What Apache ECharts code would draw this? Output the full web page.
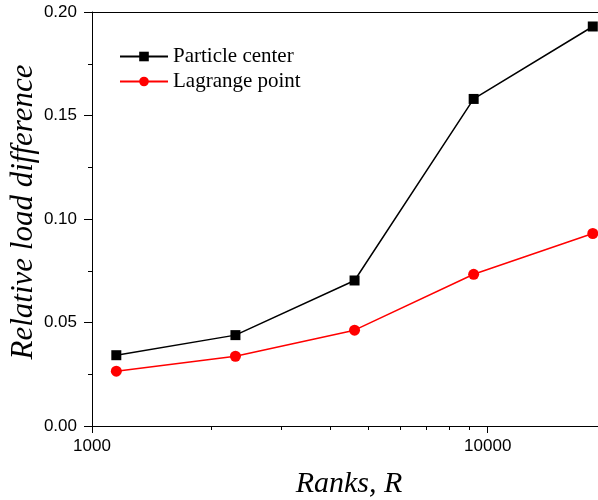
<!DOCTYPE html>
<html>
<head>
<meta charset="utf-8">
<script src="https://cdn.jsdelivr.net/npm/echarts@6/dist/echarts.min.js"></script>
<style>html,body{margin:0;padding:0;background:#fff}#c{width:598px;height:500px}</style>
</head>
<body>
<div id="c"></div>
<script>
const ranks = [1152, 2304, 4608, 9216, 18432];
const particleCenter = [0.0342, 0.0439, 0.0703, 0.158, 0.193];
const lagrangePoint = [0.0265, 0.0337, 0.0463, 0.0733, 0.093];
const xMajorTicks = [1000, 10000];
const xMinorTicks = [2000, 3000, 4000, 5000, 6000, 7000, 8000, 9000];
const seriesNames = ['Particle center', 'Lagrange point'];

const chart = echarts.init(document.getElementById('c'), null, {renderer: 'canvas'});
const sans = 'Liberation Sans, Arial, sans-serif';
const serif = 'Liberation Serif, Times New Roman, serif';
const pairs = (ys) => ranks.map((r, i) => [r, ys[i]]);

chart.setOption({
  animation: false,
  backgroundColor: '#fff',
  grid: {left: 92, top: 12, right: 0, bottom: 74, containLabel: false, outerBoundsMode: 'none'},
  legend: {
    orient: 'vertical', left: 114, top: 41, itemWidth: 48, itemHeight: 12, itemGap: 4,
    textStyle: {fontFamily: serif, fontSize: 21, color: '#000'},
    data: seriesNames
  },
  xAxis: [{
    type: 'log', logBase: 10, min: 1000, max: 19000,
    name: 'Ranks, R', nameLocation: 'middle', nameGap: 43, nameMoveOverlap: false,
    nameTextStyle: {fontFamily: serif, fontStyle: 'italic', fontSize: 30, color: '#000', padding: [0, 0, 0, 8]},
    axisLine: {lineStyle: {color: '#000', width: 1}},
    axisTick: {show: true, inside: false, length: 7, lineStyle: {color: '#000'}, customValues: xMajorTicks},
    axisLabel: {fontFamily: sans, fontSize: 17, color: '#000', margin: 12, customValues: xMajorTicks,
      formatter: (v) => String(Math.round(v))},
    splitLine: {show: false}
  }, {
    type: 'log', logBase: 10, min: 1000, max: 19000, position: 'bottom',
    axisLine: {show: false},
    axisTick: {show: true, inside: false, length: 4, lineStyle: {color: '#000'}, customValues: xMinorTicks},
    axisLabel: {show: false},
    splitLine: {show: false}
  }, {
    type: 'log', logBase: 10, min: 1000, max: 19000, position: 'top',
    axisLine: {show: true, lineStyle: {color: '#000', width: 1}},
    axisTick: {show: false},
    axisLabel: {show: false},
    splitLine: {show: false}
  }],
  yAxis: {
    type: 'value', min: 0, max: 0.2, interval: 0.05,
    name: 'Relative load difference', nameLocation: 'middle', nameGap: 53, nameMoveOverlap: false,
    nameTextStyle: {fontFamily: serif, fontStyle: 'italic', fontSize: 31, color: '#000', padding: [0, 0, 0, 14]},
    axisLine: {show: true, lineStyle: {color: '#000', width: 1}},
    axisTick: {show: true, inside: false, length: 8, lineStyle: {color: '#000'}},
    minorTick: {show: true, splitNumber: 2, length: 4, lineStyle: {color: '#000'}},
    axisLabel: {fontFamily: sans, fontSize: 17, color: '#000', margin: 15, formatter: (v) => v.toFixed(2)},
    splitLine: {show: false}
  },
  series: [{
    name: seriesNames[0], type: 'line', data: pairs(particleCenter),
    symbol: 'rect', symbolSize: 10, color: '#000',
    lineStyle: {color: '#000', width: 1.5}, itemStyle: {color: '#000'}
  }, {
    name: seriesNames[1], type: 'line', data: pairs(lagrangePoint),
    symbol: 'circle', symbolSize: 11, color: '#ff0000',
    lineStyle: {color: '#ff0000', width: 1.5}, itemStyle: {color: '#ff0000'}
  }]
});
</script>
</body>
</html>
